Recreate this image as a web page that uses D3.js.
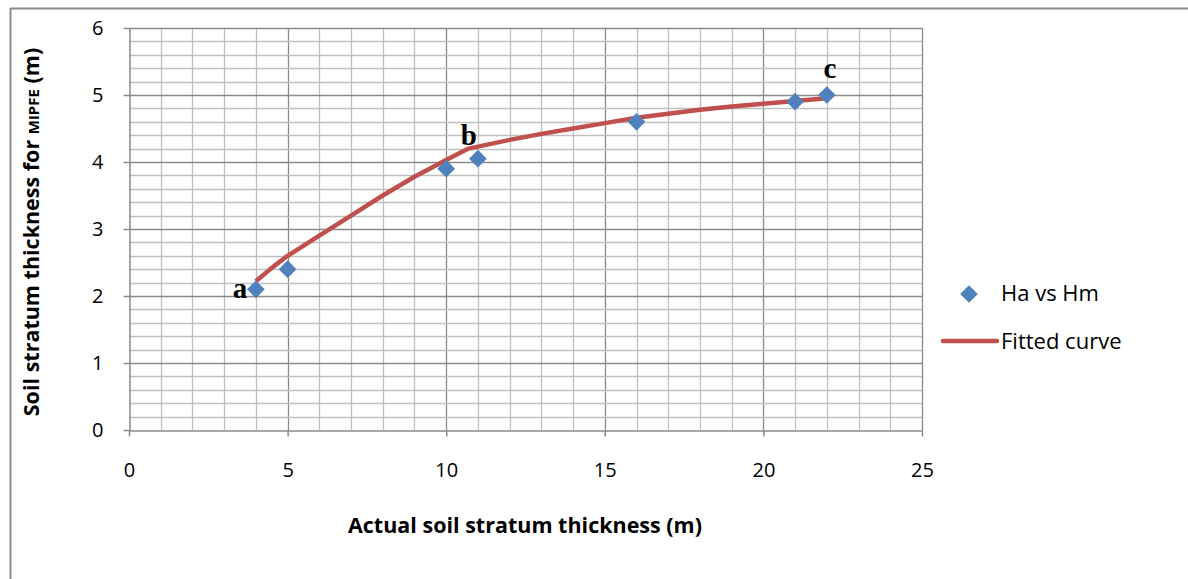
<!DOCTYPE html>
<html>
<head>
<meta charset="utf-8">
<script src="https://cdn.jsdelivr.net/npm/d3@7"></script>
<style>
  body { margin: 0; background: #fff; }
  svg { display: block; font-family: "Open Sans", "Liberation Sans", sans-serif; }
</style>
</head>
<body>
<svg id="chart" width="1188" height="579"></svg>
<script>
// measured points (Ha vs Hm)
var ha = [4, 5, 10, 11, 16, 21, 22];
var hm = [2.1, 2.4, 3.9, 4.05, 4.6, 4.9, 5.0];

// fitted curve
var fitX = [4, 4.5, 5, 6, 7, 8, 9, 10, 10.7, 11, 12, 13, 14, 15, 16, 17, 18, 19, 20, 21, 22];
var fitY = [2.22, 2.42, 2.6, 2.9, 3.2, 3.5, 3.78, 4.03, 4.2, 4.23, 4.33, 4.42, 4.5, 4.58, 4.66, 4.72, 4.78, 4.83, 4.87, 4.91, 4.95];

// point labels
var labelNames = ['a', 'b', 'c'];
var labelIdx = [0, 3, 6];

var xTicks = [0, 5, 10, 15, 20, 25];
var yTicks = [0, 1, 2, 3, 4, 5, 6];

var svg = d3.select('#chart');
var blue = '#4f81bd', red = '#c0504d';

// outer frame (only top and left show in the picture)
svg.append('line').attr('x1', 10).attr('x2', 1188).attr('y1', 8.5).attr('y2', 8.5)
  .attr('stroke', '#8c8c8c').attr('stroke-width', 2);
svg.append('line').attr('x1', 10.5).attr('x2', 10.5).attr('y1', 8).attr('y2', 579)
  .attr('stroke', '#8c8c8c').attr('stroke-width', 2);

var x = d3.scaleLinear().domain([0, 25]).range([129, 922]);
var y = d3.scaleLinear().domain([0, 6]).range([430, 28]);

var grid = svg.append('g');
// minor grid
grid.selectAll('.vx').data(d3.range(1, 26)).enter().append('line')
  .attr('x1', function(d) { return Math.round(x(d)) + 0.5; })
  .attr('x2', function(d) { return Math.round(x(d)) + 0.5; })
  .attr('y1', y(6)).attr('y2', y(0))
  .attr('stroke', function(d) { return d % 5 === 0 ? '#8a8a8a' : '#bfbfbf'; })
  .attr('stroke-width', 1.3);
grid.selectAll('.hy').data(d3.range(1, 31)).enter().append('line')
  .attr('y1', function(d) { return Math.round(y(d / 5)) + 0.5; })
  .attr('y2', function(d) { return Math.round(y(d / 5)) + 0.5; })
  .attr('x1', x(0)).attr('x2', x(25))
  .attr('stroke', function(d) { return d % 5 === 0 ? '#8a8a8a' : '#bfbfbf'; })
  .attr('stroke-width', 1.3);

// axes
var xAxis = d3.axisBottom(x).tickValues(xTicks).tickFormat(d3.format('d'))
  .tickSize(6).tickPadding(26).tickSizeOuter(0);
var yAxis = d3.axisLeft(y).tickValues(yTicks).tickFormat(d3.format('d'))
  .tickSize(6).tickPadding(20).tickSizeOuter(0);

var gx = svg.append('g').attr('transform', 'translate(0,' + (Math.round(y(0)) + 0.5) + ')').call(xAxis);
var gy = svg.append('g').attr('transform', 'translate(' + (Math.round(x(0)) + 0.5) + ',0)').call(yAxis);
[gx, gy].forEach(function(g) {
  g.select('.domain').attr('stroke', '#8a8a8a').attr('stroke-width', 1.5);
  g.selectAll('.tick line').attr('stroke', '#8a8a8a').attr('stroke-width', 1.5);
  g.selectAll('.tick text').attr('font-size', 20).attr('fill', '#000')
    .attr('font-family', '"Open Sans", sans-serif');
});

// fitted curve
var line = d3.line()
  .x(function(d, i) { return x(fitX[i]); })
  .y(function(d, i) { return y(fitY[i]); });
svg.append('path').datum(fitX).attr('d', line)
  .attr('fill', 'none').attr('stroke', red).attr('stroke-width', 4.5)
  .attr('stroke-linejoin', 'round');

// markers
var diamond = d3.symbol().type(d3.symbolDiamond2).size(200);
svg.selectAll('.pt').data(ha).enter().append('path')
  .attr('d', diamond)
  .attr('transform', function(d, i) { return 'translate(' + x(d) + ',' + y(hm[i]) + ')'; })
  .attr('fill', blue);

// letter labels
var offs = [[-16, 9], [-9, -14], [3, -17]];
svg.selectAll('.lbl').data(labelNames).enter().append('text')
  .attr('x', function(d, i) { return x(ha[labelIdx[i]]) + offs[i][0]; })
  .attr('y', function(d, i) { return y(hm[labelIdx[i]]) + offs[i][1]; })
  .attr('text-anchor', 'middle')
  .attr('font-family', '"Liberation Serif", serif').attr('font-weight', 'bold')
  .attr('font-size', 29).text(function(d) { return d; });

// axis titles
svg.append('text').attr('x', 525).attr('y', 533).attr('text-anchor', 'middle')
  .attr('font-size', 21.5).attr('font-weight', 'bold').text('Actual soil stratum thickness (m)');

var yt = svg.append('text').attr('transform', 'translate(39,232) rotate(-90)')
  .attr('text-anchor', 'middle').attr('font-size', 21.5).attr('font-weight', 'bold');
yt.append('tspan').text('Soil stratum thickness for ');
yt.append('tspan').attr('font-size', 15).text('MIPFE');
yt.append('tspan').text(' (m)');

// legend
var lg = svg.append('g');
lg.append('path').attr('d', diamond).attr('transform', 'translate(969,294)').attr('fill', blue);
lg.append('text').attr('x', 1001).attr('y', 301).attr('font-size', 22).text('Ha vs Hm');
lg.append('line').attr('x1', 943).attr('x2', 997).attr('y1', 341).attr('y2', 341)
  .attr('stroke', red).attr('stroke-width', 4.5).attr('stroke-linecap', 'round');
lg.append('text').attr('x', 1001).attr('y', 349).attr('font-size', 22).text('Fitted curve');
</script>
</body>
</html>
